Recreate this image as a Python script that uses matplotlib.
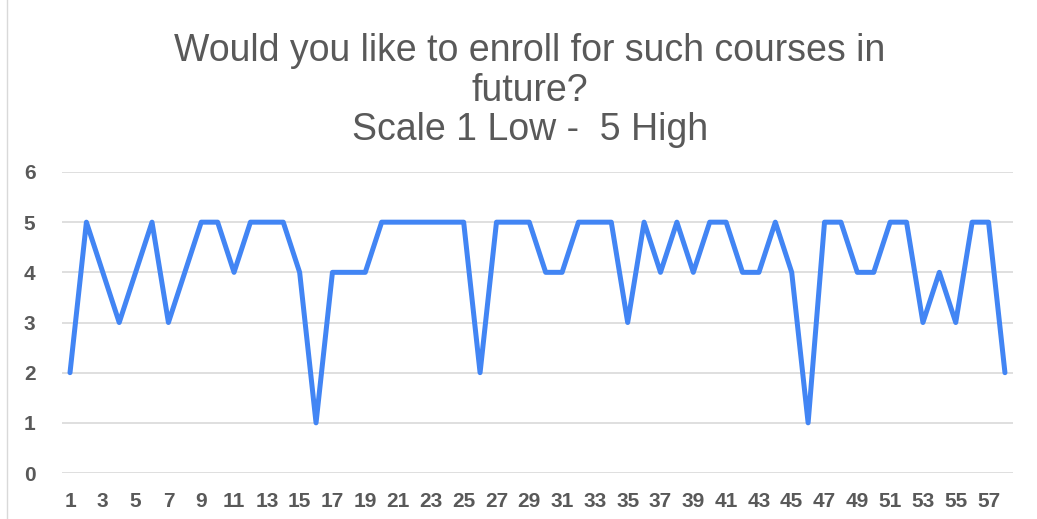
import matplotlib.pyplot as plt
import numpy as np
from matplotlib.lines import Line2D

plt.rcParams['font.family'] = ['Liberation Sans', 'DejaVu Sans']

respondents = np.arange(1, 59)
scores = [2, 5, 4, 3, 4, 5, 3, 4, 5, 5,
          4, 5, 5, 5, 4, 1, 4, 4, 4, 5,
          5, 5, 5, 5, 5, 2, 5, 5, 5, 4,
          4, 5, 5, 5, 3, 5, 4, 5, 4, 5,
          5, 4, 4, 5, 4, 1, 5, 5, 4, 4,
          5, 5, 3, 4, 3, 5, 5, 2]
x_labels = [str(i) for i in range(1, 58, 2)]
title = "Would you like to enroll for such courses in\nfuture?\nScale 1 Low -  5 High"

grey = '#595959'

fig = plt.figure(figsize=(10.37, 5.19), dpi=100)
ax = fig.add_axes([0.0596, 0.0886, 0.9174, 0.58])

ax.plot(respondents, scores, color='#4285F4', linewidth=3.6,
        solid_joinstyle='round', solid_capstyle='round')

ax.set_xlim(0.5, 58.5)
ax.set_ylim(0, 6)
ax.set_yticks(np.arange(0, 7, 1))
ax.set_xticks(np.arange(1, 58, 2))
ax.set_xticklabels(x_labels)
ax.grid(axis='y', color='#d9d9d9', linewidth=1.2)
ax.set_axisbelow(True)
for s in ax.spines.values():
    s.set_visible(False)
ax.tick_params(length=0, labelsize=15, labelcolor=grey, pad=14)
ax.tick_params(axis='y', pad=19)
for lbl in ax.get_xticklabels() + ax.get_yticklabels():
    lbl.set_fontweight('bold')

fig.text(530 / 1037, 1 - 33 / 519, title, ha='center', va='top',
         fontsize=27, color=grey, linespacing=1.13)

# faint chart border on the left
fig.add_artist(Line2D([7 / 1037, 7 / 1037], [0, 1], color='#d9d9d9', linewidth=1))

fig.savefig('out.png', dpi=100)
